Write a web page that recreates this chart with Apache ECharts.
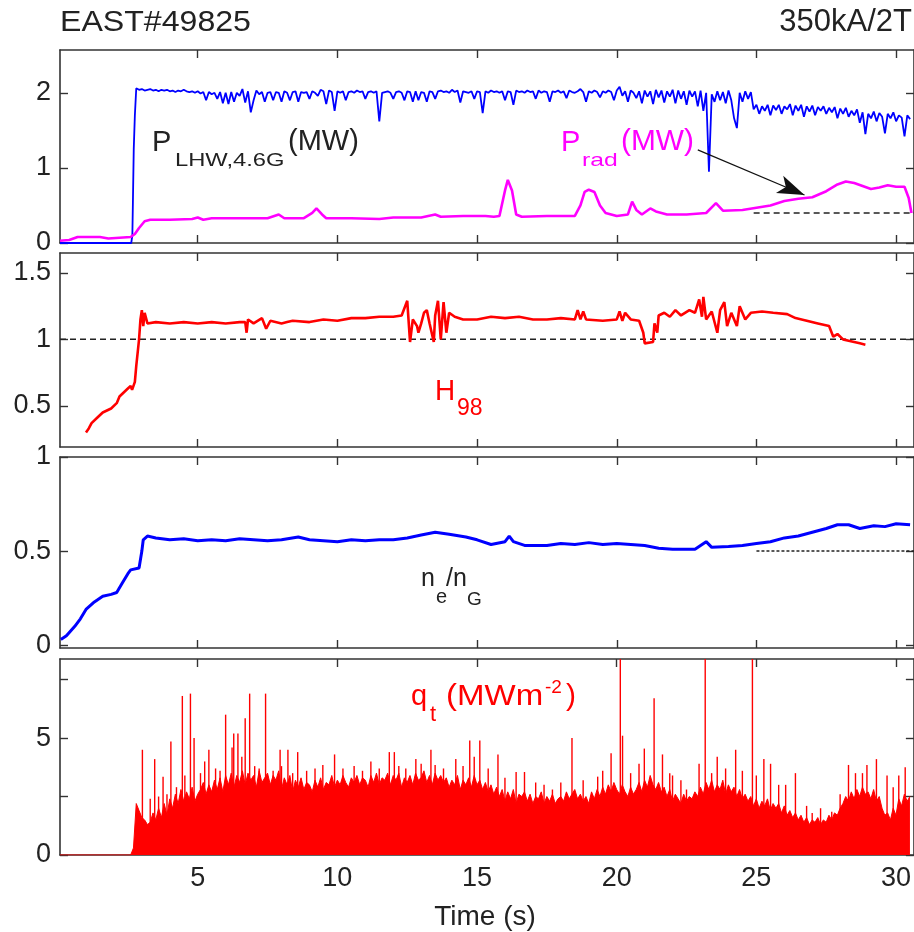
<!DOCTYPE html>
<html><head><meta charset="utf-8">
<script src="https://cdn.jsdelivr.net/npm/echarts@6/dist/echarts.min.js"></script>
<style>html,body{margin:0;padding:0;background:#fff}#c{width:914px;height:932px}</style>
</head><body><div id="c"></div>
<script>
// ---------------- data ----------------
const xTicks = [5, 10, 15, 20, 25, 30];
const yTickVals = [[0, 1, 2], [0.5, 1, 1.5], [0, 0.5, 1], [0, 2.5, 5, 7.5]];
const yLabelVals = [[0, 1, 2], [0.5, 1, 1.5], [0, 0.5, 1], [0, 5]];

// P_LHW,4.6G (MW): ramp, then samples every 0.1 s from 2.8 s
const lhwRamp = [[0.07, 0], [2.62, 0], [2.66, 0.1], [2.68, 0.55], [2.71, 1.25], [2.75, 1.7]];
const lhwT0 = 2.8, lhwDt = 0.1;
const lhwVals = [
 2.06,2.04,2.05,2.03,2.04,2.05,2.03,2.04,2.02,2.04,
 2.03,2.04,2.02,2.03,2.01,2.03,2.02,2.04,2.02,2.01,
 2.02,2.0,2.02,1.99,2.01,1.9,2.01,1.98,2.0,1.92,
 2.01,1.86,2.0,1.85,2.01,1.88,2.0,1.96,2.05,1.87,
 2.02,1.74,1.9,2.03,1.98,2.01,1.88,2.0,2.01,1.9,
 2.01,2.0,1.88,2.02,2.0,1.9,2.01,2.02,1.88,2.01,
 2.0,2.01,1.92,2.02,2.0,1.96,2.04,2.02,1.85,2.03,
 2.01,1.76,2.02,2.0,2.02,1.9,2.01,2.02,2.0,2.03,
 2.01,2.02,1.92,2.01,2.02,2.0,2.02,1.62,2.0,2.01,
 2.02,2.0,1.92,2.01,2.02,2.0,1.9,2.02,2.01,1.88,
 2.02,1.9,2.01,2.0,1.88,2.02,2.01,1.92,2.02,2.03,
 2.01,2.02,2.0,2.04,2.01,2.03,1.87,2.02,2.01,2.0,
 2.02,1.92,2.02,2.01,1.73,2.02,2.0,2.03,2.01,2.02,
 2.0,2.02,1.9,2.02,2.01,1.84,2.03,2.01,2.02,2.0,
 2.03,2.01,2.02,1.92,2.03,2.0,2.02,2.01,1.88,2.02,
 2.01,2.03,2.0,2.02,1.93,2.03,2.01,2.0,2.02,2.05,
 2.01,1.88,2.02,2.0,2.03,2.01,1.94,2.02,2.0,2.03,
 2.01,1.9,2.03,2.08,1.96,2.02,1.88,2.03,2.0,1.93,
 2.02,1.86,2.03,1.95,2.02,1.85,2.04,1.94,2.03,1.87,
 2.02,1.95,2.04,1.86,2.03,1.92,2.02,1.84,2.03,1.95,
 2.02,1.82,2.03,1.76,2.0,0.95,1.98,1.88,2.02,1.9,
 2.01,1.86,2.03,1.9,1.66,1.53,2.0,1.88,2.02,1.92,
 2.01,1.78,1.84,1.72,1.82,1.76,1.84,1.7,1.83,1.77,
 1.84,1.72,1.82,1.78,1.85,1.7,1.83,1.76,1.84,1.68,
 1.82,1.75,1.83,1.7,1.81,1.76,1.82,1.72,1.8,1.74,
 1.81,1.66,1.79,1.72,1.8,1.68,1.76,1.7,1.78,1.6,
 1.74,1.45,1.72,1.66,1.75,1.62,1.73,1.68,1.46,1.72,
 1.66,1.74,1.62,1.7,1.67,1.42,1.7,1.65
];

// P_rad (MW)
const prad = [[0.07,0.03],[0.4,0.04],[0.7,0.08],[1.5,0.08],[1.8,0.06],[2.2,0.07],[2.6,0.08],[2.75,0.12],[2.9,0.2],[3.1,0.29],[3.3,0.31],
 [4.0,0.31],[4.8,0.32],[5.0,0.34],[5.2,0.31],[5.5,0.33],[6.5,0.33],[7.5,0.33],[7.9,0.38],[8.1,0.33],[8.8,0.33],[9.1,0.4],[9.25,0.46],
 [9.45,0.38],[9.6,0.33],[10.5,0.33],[11.5,0.32],[12,0.34],[13,0.34],[13.5,0.38],[13.7,0.35],[14.5,0.36],[15.3,0.36],[15.6,0.35],
 [15.8,0.36],[16.0,0.7],[16.1,0.84],[16.25,0.7],[16.4,0.38],[16.6,0.35],[17.5,0.36],[18.5,0.36],[18.7,0.5],[18.85,0.68],[19.0,0.71],
 [19.2,0.68],[19.4,0.5],[19.6,0.4],[20.0,0.36],[20.4,0.38],[20.55,0.55],[20.7,0.44],[20.9,0.38],[21.2,0.46],[21.4,0.42],[21.8,0.38],
 [22.5,0.38],[23.2,0.4],[23.55,0.53],[23.8,0.43],[24.5,0.44],[25.0,0.47],[25.5,0.5],[26.0,0.56],[26.5,0.59],[27.0,0.61],[27.5,0.69],
 [27.9,0.78],[28.2,0.82],[28.5,0.8],[28.8,0.76],[29.1,0.72],[29.4,0.74],[29.7,0.77],[30.0,0.75],[30.3,0.75],[30.45,0.6],[30.55,0.4]];
const pradRef = [[24.9, 0.4], [30.64, 0.4]];
const arrowFrom = [22.9, 1.24], arrowTo = [26.72, 0.64];

// H98
const h98 = [[1.0,0.3],[1.1,0.33],[1.2,0.37],[1.4,0.41],[1.6,0.45],[1.9,0.48],[2.1,0.52],[2.2,0.57],[2.35,0.6],[2.5,0.63],[2.6,0.65],
 [2.65,0.62],[2.75,0.68],[2.8,0.8],[2.9,1.0],[2.95,1.15],[3.0,1.22],[3.05,1.1],[3.1,1.2],[3.2,1.12],[3.5,1.13],[4.0,1.12],[4.5,1.13],
 [5.0,1.12],[5.5,1.13],[6.0,1.12],[6.5,1.13],[6.7,1.13],[6.75,1.05],[6.8,1.15],[7.0,1.12],[7.3,1.16],[7.45,1.08],[7.6,1.14],[8.0,1.12],
 [8.2,1.13],[8.4,1.14],[9.0,1.13],[9.5,1.15],[10.0,1.14],[10.5,1.16],[11.0,1.16],[11.5,1.17],[12.0,1.17],[12.3,1.18],[12.5,1.29],
 [12.6,0.98],[12.7,1.15],[12.85,1.1],[12.9,1.05],[13.0,1.12],[13.1,1.2],[13.2,1.22],[13.3,1.12],[13.45,0.98],[13.5,1.18],[13.6,1.29],
 [13.7,1.0],[13.8,1.28],[13.9,1.05],[14.0,1.2],[14.2,1.17],[14.5,1.15],[15.0,1.15],[15.5,1.17],[16.0,1.16],[16.5,1.17],[17.0,1.15],
 [17.5,1.15],[18.0,1.16],[18.5,1.15],[18.6,1.22],[18.7,1.15],[18.8,1.21],[18.9,1.15],[19.5,1.14],[20.0,1.15],[20.1,1.21],[20.2,1.14],
 [20.3,1.2],[20.5,1.15],[20.8,1.14],[20.95,1.05],[21.0,0.97],[21.3,0.98],[21.35,1.12],[21.45,1.05],[21.5,1.18],[21.7,1.2],[21.9,1.17],
 [22.1,1.22],[22.3,1.18],[22.6,1.22],[22.8,1.2],[22.95,1.3],[23.05,1.17],[23.1,1.32],[23.2,1.15],[23.4,1.21],[23.6,1.05],[23.7,1.22],
 [23.85,1.28],[23.95,1.1],[24.1,1.2],[24.3,1.1],[24.4,1.25],[24.6,1.15],[24.8,1.2],[25.2,1.21],[25.6,1.2],[26.1,1.19],[26.4,1.16],
 [26.8,1.14],[27.2,1.12],[27.6,1.1],[27.75,1.02],[27.9,1.04],[28.1,1.0],[28.3,0.99],[28.5,0.98],[28.7,0.97],[28.9,0.96]];
const h98Ref = [[0.07, 1], [30.64, 1]];

// ne/nG
const neng = [[0.1,0.03],[0.3,0.05],[0.6,0.1],[0.8,0.14],[1.0,0.19],[1.3,0.23],[1.6,0.26],[1.9,0.27],[2.1,0.28],[2.3,0.33],[2.5,0.38],
 [2.6,0.4],[2.9,0.41],[3.0,0.5],[3.05,0.56],[3.2,0.58],[3.5,0.57],[4,0.56],[4.5,0.565],[5,0.555],[5.5,0.56],[6,0.555],[6.5,0.565],
 [7,0.56],[7.5,0.555],[8,0.56],[8.6,0.575],[9.0,0.56],[9.5,0.555],[10,0.55],[10.5,0.56],[11,0.555],[11.5,0.56],[12,0.56],[12.5,0.57],
 [13,0.585],[13.5,0.6],[14,0.59],[14.6,0.575],[15.0,0.56],[15.5,0.535],[16.0,0.55],[16.15,0.58],[16.3,0.55],[16.7,0.53],[17.5,0.53],
 [18.0,0.54],[18.5,0.535],[19.0,0.545],[19.5,0.535],[20.0,0.54],[20.5,0.535],[21.0,0.53],[21.5,0.515],[22.0,0.51],[22.8,0.51],
 [23.2,0.55],[23.4,0.52],[24.0,0.525],[24.5,0.53],[25.0,0.54],[25.5,0.55],[26.0,0.57],[26.5,0.58],[27.0,0.6],[27.5,0.62],[27.9,0.64],
 [28.3,0.64],[28.7,0.62],[29.2,0.635],[29.6,0.63],[30.0,0.645],[30.5,0.64]];
const nengRef = [[25.0, 0.5], [30.64, 0.5]];

// q_t (MW m^-2): solid envelope sampled every 0.1 s from 2.7 s, plus individual spikes
const qPre = [[0.07, 0], [2.6, 0]];
const qT0 = 2.7, qDt = 0.1;
const qVals = [
 0.3,2.2,1.9,1.6,1.5,1.3,1.4,1.8,1.5,2.0,
 1.6,2.2,1.7,2.4,2.0,2.6,2.2,2.8,2.3,2.7,
 2.4,2.9,2.3,2.6,2.8,3.1,2.6,3.0,2.7,3.2,
 2.8,3.3,2.7,3.4,3.0,3.5,2.9,3.4,3.1,3.6,
 3.0,3.5,3.2,3.4,2.9,3.6,3.1,3.3,3.5,3.0,
 3.4,3.2,3.6,2.8,3.3,3.0,3.4,2.7,3.2,2.9,
 3.3,2.8,3.1,3.0,2.7,3.2,2.9,3.3,2.8,3.1,
 3.0,3.4,2.9,3.2,3.0,3.4,3.1,2.9,3.3,3.1,
 3.4,3.0,3.3,3.2,2.9,3.4,3.1,3.5,3.0,3.3,
 3.2,3.5,3.0,3.4,3.2,3.5,2.9,3.3,3.1,3.4,
 3.0,3.5,3.2,3.3,3.6,3.1,3.4,3.0,3.5,3.2,
 3.4,3.1,3.3,2.9,3.2,3.0,3.4,2.8,3.2,3.0,
 3.3,2.9,3.4,3.0,3.2,2.8,3.1,2.7,3.0,2.6,
 2.9,2.5,2.8,2.3,2.7,2.4,2.8,2.2,2.6,2.5,
 2.7,2.3,2.6,2.2,2.5,2.4,2.7,2.2,2.5,2.3,
 2.6,2.2,2.4,2.5,2.3,2.7,2.4,2.6,2.8,2.4,
 2.6,2.3,2.5,2.2,2.7,2.4,2.8,2.5,2.9,2.6,
 3.0,2.7,3.1,2.8,2.6,3.0,2.7,2.5,2.9,2.6,
 2.8,3.1,2.7,3.2,2.9,3.4,3.0,2.8,3.1,2.7,
 2.9,2.5,2.8,2.3,2.6,2.4,2.2,2.6,2.3,2.5,
 2.4,2.7,2.5,2.9,2.6,3.1,2.8,3.2,2.7,3.0,
 2.8,3.2,2.6,3.0,2.7,2.9,2.5,2.8,2.4,2.6,
 2.3,2.5,2.1,2.4,2.0,2.3,2.1,2.4,1.9,2.2,
 2.0,2.2,1.8,2.1,1.7,1.9,1.6,1.8,1.5,1.7,
 1.4,1.6,1.3,1.5,1.4,1.6,1.3,1.5,1.4,1.7,
 1.5,1.8,1.7,2.0,2.2,2.5,2.3,2.7,2.4,2.8,
 2.5,2.9,2.6,2.7,2.4,2.8,2.3,2.5,2.0,1.7,
 1.8,1.5,2.0,1.7,2.4,2.1,2.6,2.3,2.5
];
const qSpikes = [[3.02,4.5],[3.3,2.4],[3.46,4.1],[3.6,2.5],[3.76,3.35],[3.9,2.6],[4.04,4.85],[4.24,2.9],[4.45,6.8],[4.54,3.4],
 [4.74,6.9],[4.87,5.0],[5.1,3.5],[5.25,4.0],[5.4,4.5],[5.64,3.7],[5.8,3.6],[6.0,6.0],[6.23,4.6],[6.29,5.2],[6.44,5.2],[6.58,4.2],
 [6.7,5.85],[6.86,6.9],[7.04,3.8],[7.2,3.7],[7.43,6.9],[7.7,3.6],[7.95,4.5],[8.0,3.8],[8.23,4.5],[8.4,3.5],[8.58,4.4],[8.9,3.6],
 [9.2,3.7],[9.48,3.85],[9.9,4.3],[10.2,3.7],[10.6,3.8],[10.9,3.6],[11.2,4.0],[11.5,3.7],[11.86,4.4],[12.04,4.4],[12.2,3.8],
 [12.45,3.7],[12.81,4.1],[13.0,3.9],[13.35,4.5],[13.5,3.85],[13.8,3.7],[14.24,4.1],[14.5,3.8],[14.74,4.9],[14.9,4.2],[15.1,4.9],
 [15.4,3.7],[15.75,4.3],[16.0,3.3],[16.4,3.55],[16.7,3.55],[17.1,3.1],[17.4,3.0],[17.7,2.8],[18.0,3.1],[18.4,5.0],[18.8,3.2],
 [19.32,3.35],[19.5,3.6],[19.8,4.35],[20.13,9],[20.21,5.1],[20.5,3.5],[20.8,3.9],[20.99,4.55],[21.34,6.7],[21.64,4.3],[21.9,3.5],
 [22.0,3.4],[22.3,3.2],[22.5,2.8],[22.95,3.9],[23.17,9],[23.4,3.5],[23.6,4.2],[23.9,3.7],[24.26,4.5],[24.5,3.6],[24.86,9],
 [25.0,3.4],[25.27,4.1],[25.51,3.9],[25.8,3.0],[26.05,3.0],[26.4,3.5],[26.8,2.1],[27.0,1.8],[27.3,2.0],[27.7,1.85],[28.0,2.6],
 [28.3,3.85],[28.55,3.5],[28.8,3.5],[28.96,3.85],[29.3,4.1],[29.68,3.4],[29.9,2.9],[30.1,3.4],[30.33,3.75]];

// ---------------- layout ----------------
const FF = '"Liberation Sans", Arial, sans-serif';
const INK = '#222';
const AX = '#333';
const XMIN = 0.07, XMAX = 30.64;
const panels = [
  { top: 50, height: 193, min: 0, max: 2.57 },
  { top: 253, height: 194, min: 0.19, max: 1.65 },
  { top: 457, height: 191, min: -0.015, max: 1.0 },
  { top: 659, height: 196, min: 0, max: 8.38 }
];

const grid = [], xAxis = [], yAxis = [];
panels.forEach((p, i) => {
  grid.push({ left: 60, width: 856, top: p.top, height: p.height, containLabel: false });
  const lineStyle = { color: AX, width: 1.6 };
  const tick = (vals) => ({ show: true, inside: true, length: 8, customValues: vals, lineStyle: { color: AX, width: 1.4 } });
  xAxis.push({
    type: 'value', gridIndex: i, position: 'bottom', min: XMIN, max: XMAX,
    axisLine: { show: true, onZero: false, lineStyle },
    axisTick: tick(xTicks), splitLine: { show: false },
    axisLabel: i === 3 ? { show: true, customValues: xTicks, fontSize: 27, fontFamily: FF, color: INK, margin: 10 } : { show: false }
  });
  xAxis.push({
    type: 'value', gridIndex: i, position: 'top', min: XMIN, max: XMAX,
    axisLine: { show: true, onZero: false, lineStyle },
    axisTick: tick(xTicks), splitLine: { show: false }, axisLabel: { show: false }
  });
  yAxis.push({
    type: 'value', gridIndex: i, position: 'left', min: p.min, max: p.max,
    axisLine: { show: true, onZero: false, lineStyle },
    axisTick: tick(yTickVals[i]), splitLine: { show: false },
    axisLabel: { show: true, customValues: yLabelVals[i], fontSize: 27, fontFamily: FF, color: INK, margin: 9 }
  });
  yAxis.push({
    type: 'value', gridIndex: i, position: 'right', min: p.min, max: p.max,
    axisLine: { show: true, onZero: false, lineStyle },
    axisTick: tick(yTickVals[i]), splitLine: { show: false }, axisLabel: { show: false }
  });
});

const sampled = (t0, dt, vals) => vals.map((v, k) => [Math.round((t0 + k * dt) * 100) / 100, v]);
const line = (gi, data, color, width, extra) => Object.assign({
  type: 'line', xAxisIndex: 2 * gi, yAxisIndex: 2 * gi, data, showSymbol: false, symbol: 'none',
  lineStyle: { color, width }, itemStyle: { color }, silent: true, animation: false, clip: true
}, extra || {});

const series = [
  line(0, lhwRamp.concat(sampled(lhwT0, lhwDt, lhwVals)), '#0000ff', 1.8),
  line(0, pradRef, INK, 1.5, { lineStyle: { color: INK, width: 1.5, type: [6, 4] } }),
  line(0, prad, '#ff00ff', 2.6, {
    markLine: {
      silent: true, animation: false, symbol: ['none', 'arrow'], label: { show: false },
      lineStyle: { color: '#111', width: 1.2, type: 'solid' },
      emphasis: { disabled: true },
      data: [[{ coord: arrowFrom, symbol: 'none' }, { coord: arrowTo, symbol: 'arrow', symbolSize: [14, 27] }]]
    }
  }),
  line(1, h98Ref, INK, 1.5, { lineStyle: { color: INK, width: 1.5, type: [6, 4] } }),
  line(1, h98, '#ff0000', 2.6),
  line(2, nengRef, INK, 1.5, { lineStyle: { color: INK, width: 1.5, type: [3, 2] } }),
  line(2, neng, '#0000ff', 3),
  line(3, qPre.concat(sampled(qT0, qDt, qVals)), '#ff0000', 1, { areaStyle: { color: '#ff0000', opacity: 1 } }),
  { type: 'bar', xAxisIndex: 6, yAxisIndex: 6, data: qSpikes, barWidth: 1.4, itemStyle: { color: '#ff0000' }, silent: true, animation: false }
];

const T = (text, x, y, fs, color, sx, align) => ({
  type: 'text', x, y, scaleX: sx || 1, z: 100, silent: true,
  style: { text, fontSize: fs, fontFamily: FF, fill: color, verticalAlign: 'middle', align: align || 'left' }
});
const graphic = [
  T('EAST#49825', 60, 22.5, 30, INK, 1.07),
  T('350kA/2T', 912, 22.5, 31, INK, 1, 'right'),
  T('P', 152, 142.5, 29, INK),
  T('LHW,4.6G', 175, 160.5, 19, INK, 1.25),
  T('(MW)', 288, 142, 29, INK),
  T('P', 561, 142.5, 29, '#ff00ff'),
  T('rad', 582, 161, 19, '#ff00ff', 1.3),
  T('(MW)', 621, 142, 29, '#ff00ff', 1.03),
  T('H', 435, 391.5, 30, '#ff0000', 0.93),
  T('98', 457, 409, 23, '#ff0000'),
  T('n', 421, 579.6, 25, INK),
  T('e', 436, 597.5, 20, INK),
  T('/n', 446, 579.6, 25, INK),
  T('G', 467, 600, 19, INK),
  T('q', 411, 697, 29, '#ff0000'),
  T('t', 430, 715, 22, '#ff0000'),
  T('(MWm', 446, 696.5, 30, '#ff0000', 1.1),
  T('-2', 545, 688, 19, '#ff0000'),
  T(')', 566, 696.5, 30, '#ff0000'),
  T('Time (s)', 485, 917, 28, INK, 1, 'center')
];

const chart = echarts.init(document.getElementById('c'), null, { renderer: 'canvas' });
chart.setOption({ animation: false, backgroundColor: '#fff', grid, xAxis, yAxis, series, graphic });
</script>
</body></html>
